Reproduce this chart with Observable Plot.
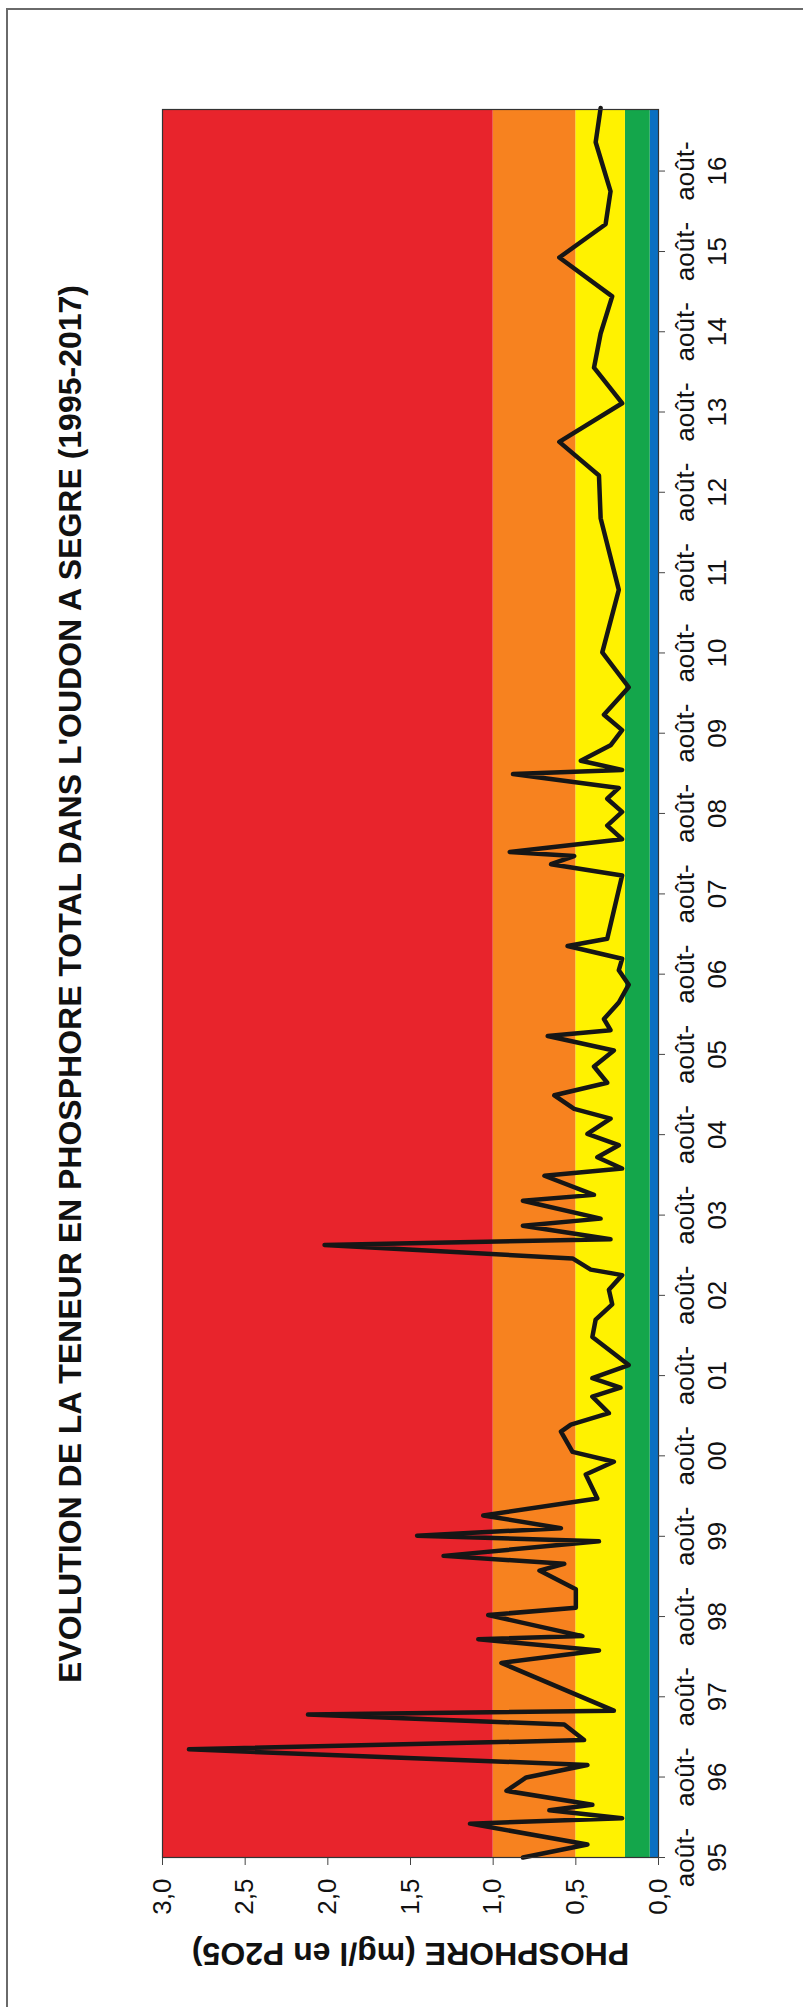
<!DOCTYPE html>
<html><head><meta charset="utf-8">
<script src="https://cdn.jsdelivr.net/npm/d3@7"></script>
<script src="https://cdn.jsdelivr.net/npm/@observablehq/plot@0.6"></script>
<style>
html,body{margin:0;padding:0;background:#fff;}
body{width:803px;height:2007px;position:relative;overflow:hidden;font-family:"Liberation Sans",Arial,sans-serif;}
#frame{position:absolute;left:6px;top:8px;width:820px;height:2020px;border-left:2px solid #6a6a6a;border-top:2px solid #6a6a6a;}
#rot{position:absolute;left:0;top:0;width:2007px;height:803px;transform-origin:0 0;transform:translate(0px,2007px) rotate(-90deg);}
#title{position:absolute;left:149px;width:1748px;top:52px;text-align:center;font-weight:bold;font-size:32px;line-height:36px;color:#111;white-space:nowrap;}
#chart{position:absolute;left:0;top:100px;}
</style></head><body>
<div id="frame"></div>
<div id="rot">
  <div id="title">EVOLUTION DE LA TENEUR EN PHOSPHORE TOTAL DANS L'OUDON A SEGRE (1995-2017)</div>
  <div id="chart"></div>
</div>
<script>
// Sampling dates and total phosphorus values (mg/l P2O5)
const dates = [
"1995-08-01","1995-09-29","1996-01-02","1996-01-27","1996-03-03","1996-03-28","1996-05-30","1996-07-30",
"1996-09-25","1996-12-05","1997-01-16","1997-03-28","1997-05-12","1997-05-30","1998-01-02","1998-02-28",
"1998-04-20","1998-05-04","1998-08-08","1998-09-10","1998-12-03","1999-02-26","1999-03-29","1999-05-04",
"1999-07-09","1999-08-04","1999-09-07","1999-11-04","2000-01-20","2000-05-08","2000-07-05","2000-08-19",
"2000-11-19","2000-12-21","2001-02-11","2001-04-27","2001-06-07","2001-07-20","2001-09-18","2001-11-15",
"2002-01-24","2002-04-13","2002-06-21","2002-08-26","2002-11-01","2002-11-26","2003-01-16","2003-03-18",
"2003-04-13","2003-06-14","2003-07-16","2003-10-05","2003-11-01","2004-01-27","2004-02-29","2004-04-20",
"2004-06-14","2004-08-04","2004-10-13","2004-11-26","2005-01-27","2005-03-25","2005-06-07","2005-08-19",
"2005-10-24","2005-11-19","2006-01-09","2006-03-25","2006-06-14","2006-08-19","2006-10-10","2006-12-07",
"2007-01-09","2007-10-24","2007-12-14","2008-01-20","2008-02-08","2008-04-06","2008-06-07","2008-08-08",
"2008-10-07","2008-11-25","2009-01-27","2009-02-15","2009-03-29","2009-06-07","2009-08-15","2009-10-24",
"2010-02-26","2010-08-04","2011-05-15","2012-04-05","2012-10-16","2013-03-18","2013-09-10","2014-02-19",
"2014-07-24","2015-01-09","2015-07-05","2015-12-03","2016-05-01","2016-12-10","2017-05-15"
];
const values = [
0.82,0.43,1.14,0.22,0.66,0.40,0.92,0.80,
0.43,2.84,0.45,0.57,2.12,0.27,0.95,0.36,
1.09,0.46,1.03,0.50,0.50,0.72,0.57,1.30,
0.36,1.46,0.59,1.06,0.37,0.44,0.27,0.52,
0.59,0.53,0.30,0.40,0.23,0.40,0.18,0.28,
0.40,0.38,0.28,0.30,0.22,0.41,0.52,2.02,
0.29,0.82,0.35,0.82,0.39,0.69,0.22,0.37,
0.24,0.43,0.29,0.51,0.63,0.31,0.39,0.27,
0.67,0.29,0.33,0.24,0.18,0.24,0.22,0.55,
0.31,0.22,0.65,0.51,0.90,0.22,0.31,0.22,
0.31,0.24,0.88,0.22,0.47,0.29,0.22,0.33,
0.18,0.34,0.24,0.35,0.36,0.60,0.22,0.39,
0.35,0.28,0.60,0.32,0.29,0.38,0.35
];
// Axis tick labels (août of each year)
const tickYears = ["95","96","97","98","99","00","01","02","03","04","05","06","07","08","09","10","11","12","13","14","15","16"];
const valueTicks = [0, 0.5, 1, 1.5, 2, 2.5, 3];
// Quality classes (background bands)
const bandLow  = [0,    0.05, 0.2, 0.5, 1];
const bandHigh = [0.05, 0.2,  0.5, 1,   3];
const bandColors = ["#0A6FC2", "#14A64B", "#FFF200", "#F7821F", "#E8242C"];
const domainStart = "1995-08-01";
const domainEnd = "2017-05-08";
const yLabel = "PHOSPHORE (mg/l en P2O5)";

const parse = s => new Date(s + "T00:00:00Z");
const series = dates.map((d, i) => ({date: parse(d), value: values[i]}));
const bands = bandLow.map((lo, i) => ({lo, hi: bandHigh[i], color: bandColors[i]}));
const x0 = parse(domainStart), x1 = parse(domainEnd);
const tickDates = tickYears.map((_, i) => new Date(Date.UTC(1995 + i, 7, 1)));

const chart = Plot.plot({
  width: 2007,
  height: 703,
  marginLeft: 149,
  marginRight: 110,
  marginTop: 62,
  marginBottom: 145,
  style: {fontFamily: "'Liberation Sans', Arial, sans-serif", fontSize: "26px", color: "#111", background: "transparent", overflow: "visible"},
  color: {type: "identity"},
  x: {type: "utc", domain: [x0, x1]},
  y: {domain: [0, 3]},
  marks: [
    Plot.rect(bands, {x1: () => x0, x2: () => x1, y1: "lo", y2: "hi", fill: "color"}),
    Plot.line(series, {x: "date", y: "value", stroke: "#161616", strokeWidth: 4.5, strokeLinejoin: "round", strokeLinecap: "round"}),
    Plot.frame({stroke: "#333", strokeWidth: 1.2}),
    Plot.axisX({ticks: tickDates, tickSize: 7, tickPadding: 6, lineHeight: 1.22, fontSize: 26, stroke: "#444",
      tickFormat: d => "août-\n" + tickYears[d.getUTCFullYear() - 1995], label: null}),
    Plot.axisY({ticks: valueTicks, tickSize: 7, tickPadding: 14, fontSize: 26, stroke: "#444",
      tickFormat: d => d.toFixed(1).replace(".", ","), label: null}),
    Plot.text([yLabel], {text: d => d, frameAnchor: "left", textAnchor: "middle", dx: -96, rotate: -90, fontWeight: "bold", fontSize: 32, fill: "#111"})
  ]
});
document.getElementById("chart").appendChild(chart);
</script>
</body></html>
